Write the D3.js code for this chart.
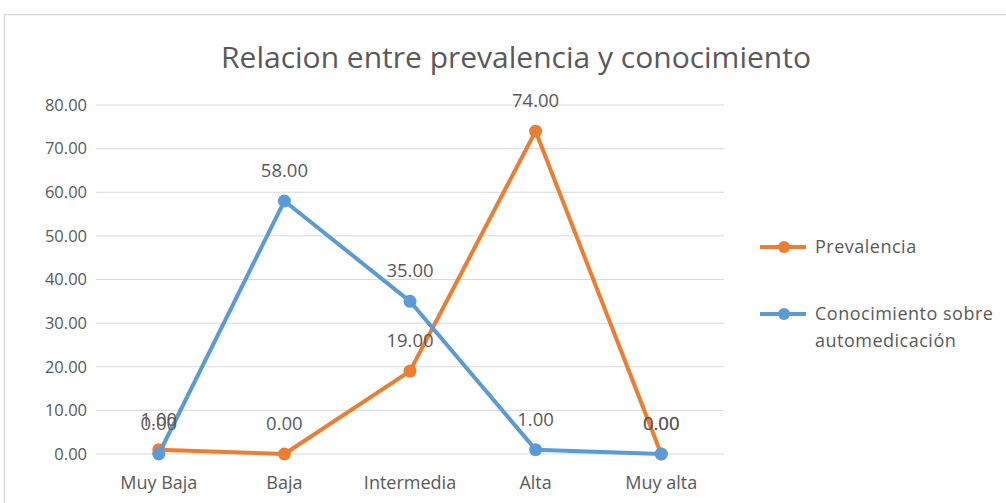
<!DOCTYPE html>
<html>
<head>
<meta charset="utf-8">
<script src="https://cdn.jsdelivr.net/npm/d3@7"></script>
<style>
  body { margin: 0; background: #fff; }
  text { font-family: "Open Sans", "Noto Sans", sans-serif; fill: #595959; }
</style>
</head>
<body>
<div id="chart"></div>
<script>
// Data
const categories = ["Muy Baja", "Baja", "Intermedia", "Alta", "Muy alta"];
const prevalencia = [1, 0, 19, 74, 0];
const conocimiento = [0, 58, 35, 1, 0];
const yTicks = [0, 10, 20, 30, 40, 50, 60, 70, 80];
const seriesNames = ["Prevalencia", ["Conocimiento sobre", "automedicación"]];

const width = 1006, height = 503;
const margin = { top: 105, right: 282, bottom: 49, left: 96 };
const innerW = width - margin.left - margin.right;
const innerH = height - margin.top - margin.bottom;

const svg = d3.select("#chart")
    .append("svg")
    .attr("width", width)
    .attr("height", height);

// chart frame
svg.append("rect")
    .attr("x", 4.5).attr("y", 14.5)
    .attr("width", width + 10).attr("height", height + 10)
    .attr("fill", "none")
    .attr("stroke", "#d9d9d9")
    .attr("stroke-width", 1.5);

svg.append("text")
    .attr("x", 516).attr("y", 68)
    .attr("text-anchor", "middle")
    .style("font-size", "30px")
    .text("Relacion entre prevalencia y conocimiento");

const g = svg.append("g")
    .attr("transform", `translate(${margin.left},${margin.top})`);

const x = d3.scaleBand()
    .domain(categories)
    .range([0, innerW]);

const y = d3.scaleLinear()
    .domain([0, 80])
    .range([innerH, 0]);

// gridlines
g.append("g")
    .selectAll("line")
    .data(yTicks)
    .enter()
    .append("line")
    .attr("x1", 0).attr("x2", innerW)
    .attr("y1", d => y(d)).attr("y2", d => y(d))
    .attr("stroke", "#d9d9d9")
    .attr("stroke-width", 1);

// y axis labels
const yAxis = g.append("g")
    .call(d3.axisLeft(y).tickValues(yTicks).tickFormat(d3.format(".2f")).tickSize(0).tickPadding(9));
yAxis.select(".domain").remove();
yAxis.selectAll("text").style("font-size", "16.5px").attr("fill", "#595959");

// x axis labels
const xAxis = g.append("g")
    .attr("transform", `translate(0,${innerH})`)
    .call(d3.axisBottom(x).tickSize(0).tickPadding(22));
xAxis.select(".domain").remove();
xAxis.selectAll("text").style("font-size", "18px").attr("fill", "#595959");

const cx = d => x(d) + x.bandwidth() / 2;

const series = [
    { values: prevalencia, color: "#ED7D31" },
    { values: conocimiento, color: "#5B9BD5" }
];

const line = d3.line()
    .x((d, i) => cx(categories[i]))
    .y(d => y(d));

series.forEach(s => {
    g.append("path")
        .datum(s.values)
        .attr("d", line)
        .attr("fill", "none")
        .attr("stroke", s.color)
        .attr("stroke-width", 4)
        .attr("stroke-linejoin", "round");

    g.selectAll(null)
        .data(s.values)
        .enter()
        .append("circle")
        .attr("cx", (d, i) => cx(categories[i]))
        .attr("cy", d => y(d))
        .attr("r", 6.5)
        .attr("fill", s.color);
});

// data labels
series.forEach(s => {
    g.selectAll(null)
        .data(s.values)
        .enter()
        .append("text")
        .attr("x", (d, i) => cx(categories[i]))
        .attr("y", d => y(d) - 24)
        .attr("text-anchor", "middle")
        .style("font-size", "18.5px")
        .text(d => d3.format(".2f")(d));
});

// legend
const legend = svg.append("g").attr("transform", "translate(760,0)");
const legendY = [247, 314];
series.forEach((s, i) => {
    legend.append("line")
        .attr("x1", 0).attr("x2", 46)
        .attr("y1", legendY[i]).attr("y2", legendY[i])
        .attr("stroke", s.color).attr("stroke-width", 4);
    legend.append("circle")
        .attr("cx", 24).attr("cy", legendY[i]).attr("r", 6)
        .attr("fill", s.color);
    const name = seriesNames[i];
    const t = legend.append("text")
        .attr("x", 55).attr("y", legendY[i] + 6)
        .style("font-size", "18px")
        .style("letter-spacing", "0.5px");
    (Array.isArray(name) ? name : [name]).forEach((ln, j) => {
        t.append("tspan")
            .attr("x", 55)
            .attr("dy", j === 0 ? 0 : 27)
            .text(ln);
    });
});
</script>
</body>
</html>
